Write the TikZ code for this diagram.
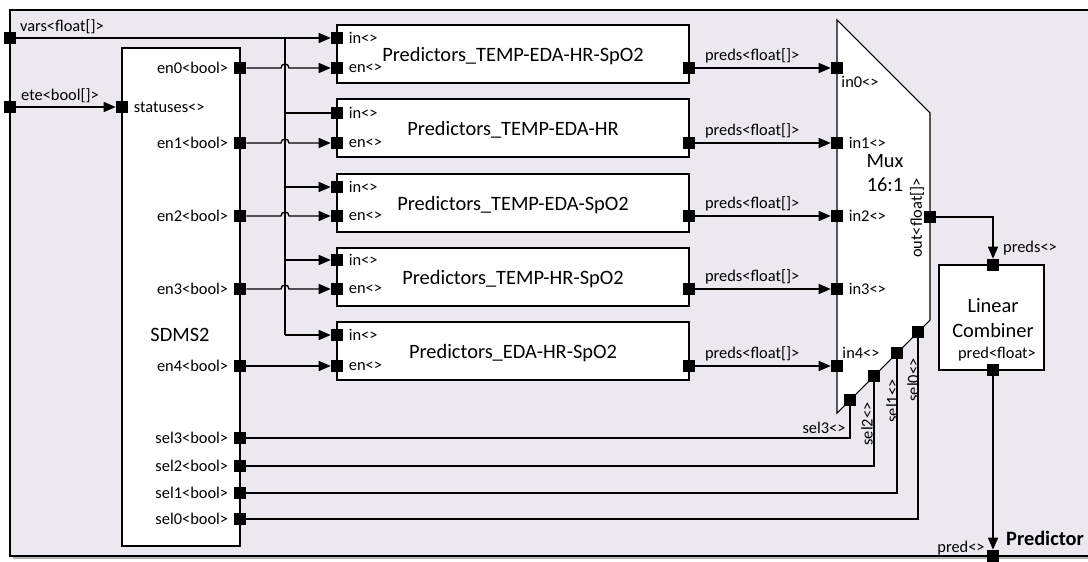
\documentclass[tikz,border=0pt]{standalone}
\usepackage{fontspec}
\setmainfont{Carlito}
\usepackage{tikz}
\usetikzlibrary{arrows.meta,positioning,calc,fit}
\definecolor{canvas}{RGB}{235,232,240}
\newcommand{\bigtxt}{\fontsize{15.3}{18.5}\selectfont}
\newcommand{\porttxt}{\fontsize{12.3}{14}\selectfont}

\begin{document}
\begin{tikzpicture}[x=0.75pt, y=-0.75pt,
    every node/.style={font=\porttxt, inner sep=1pt},
    port/.style={fill=black, minimum size=9pt, inner sep=0pt},
    blk/.style={draw, fill=white, line width=0.8pt, inner sep=0pt},
    wire/.style={line width=1pt},
    arr/.style={wire, -{Triangle[length=9pt,width=7.5pt]}},
    hopto/.style={to path={-- ($(\tikztostart -| bus)+(-3pt,0)$)
      .. controls +(0,4pt) and +(0,4pt) .. ($(\tikztostart -| bus)+(3pt,0)$)
      -- (\tikztotarget)}}]
  \useasboundingbox (0,0) rectangle (1088,561);
  \fill[white] (0,0) rectangle (1088,561);
  % outer frame, cut by the right edge
  \begin{scope}
    \clip (0,0) rectangle (1088,561);
    \fill[gray!60] (13,13) rectangle (1095,559);
    \draw[fill=canvas, line width=1.2pt] (10,10) rectangle (1095,556);
  \end{scope}

  % SDMS2
  \node[blk, fit={(122,48) (240,546)}] (sd) {};
  \node[font=\bigtxt] at (180,335) {SDMS2};
  \node[port] (vars) at (10,38) {};
  \node[port] (ete) at (10,107) {};
  \node[port] (sd-stat) at (122,107) {};
  \node at (62,27) {vars<float[]>};
  \node at (60,96) {ete<bool[]>};
  \node[right=3pt of sd-stat] {statuses<>};
  \draw[arr] (ete) -- (sd-stat);

  % Mux 16:1
  \draw[blk] (837,20) -- (930,113) -- (930,320) -- (837,413) -- cycle;
  \node[font=\bigtxt, align=center] at (885,173) {Mux\\16:1};
  \node[port] (mux-out) at (930,217) {};
  \node[rotate=90] at (917,218) {out<float[]>};
  \node[port] (mux-sel0) at (918,332) {};
  \node[port] (mux-sel1) at (897,353) {};
  \node[port] (mux-sel2) at (874,376) {};
  \node[port] (mux-sel3) at (850,400) {};
  \node[rotate=90] at (913,380) {sel0<>};
  \node[rotate=90] at (892,401) {sel1<>};
  \node[rotate=90] at (867,424) {sel2<>};
  \node at (824,428) {sel3<>};

  % predictor blocks
  \foreach \i/\py/\iy/\ey/\nm in {0/25/38/68/{TEMP-EDA-HR-SpO2},
      1/99/113/143/{TEMP-EDA-HR}, 2/174/187/216/{TEMP-EDA-SpO2},
      3/248/260/289/{TEMP-HR-SpO2}, 4/322/335/366/{EDA-HR-SpO2}} {
    \node[blk, fit={(337,\py) (689,\py+58)}] (p\i) {};
    \node[font=\bigtxt] at ($(p\i.center)+(0,2)$) {Predictors\_\nm};
    \node[port] (p\i-in) at (337,\iy) {};
    \node[port] (p\i-en) at (337,\ey) {};
    \node[port] (p\i-out) at (689,\ey) {};
    \node[port] (mux-in\i) at (837,\ey) {};
    \node[port] (sd-en\i) at (240,\ey) {};
    \node[right=3pt of p\i-in] {in<>};
    \node[right=3pt of p\i-en] {en<>};
    \node[left=3pt of sd-en\i] {en\i<bool>};
    \draw[arr] (p\i-out) -- node[above=2pt, pos=0.42] {preds<float[]>} (mux-in\i);
  }
  \node at (860,82) {in0<>};
  \node[right=3pt of mux-in1] {in1<>};
  \node[right=3pt of mux-in2] {in2<>};
  \node[right=3pt of mux-in3] {in3<>};
  \node at (861,353) {in4<>};

  % vars bus and enables
  \coordinate (bus) at (285,38);
  \draw[arr] (vars) -- (p0-in);
  \draw[wire] (bus) -- (bus |- p4-in);
  \draw[wire] (bus |- p1-in) -- (p1-in);
  \foreach \i in {2,3,4} \draw[arr] (bus |- p\i-in) -- (p\i-in);
  \foreach \i in {0,...,3} \draw[arr] (sd-en\i) to[hopto] (p\i-en);
  \draw[arr] (sd-en4) -- (p4-en);

  % select lines
  \foreach \i/\sy in {3/438, 2/466, 1/493, 0/519} {
    \node[port] (sd-sel\i) at (240,\sy) {};
    \node[left=3pt of sd-sel\i] {sel\i<bool>};
    \draw[wire] (mux-sel\i) |- (sd-sel\i);
  }

  % Linear Combiner
  \node[blk, fit={(939,265) (1044,370)}] (lc) {};
  \node[font=\bigtxt, align=center] at (993,318) {Linear\\Combiner};
  \node[port] (lc-preds) at (993,265) {};
  \node[port] (lc-pred) at (993,370) {};
  \node at (997,354) {pred<float>};
  \node at (1030,248) {preds<>};
  \draw[arr] (mux-out) -| (lc-preds);
  \node[port] (pred) at (993,556) {};
  \node at (961,548) {pred<>};
  \node[font=\bigtxt\bfseries] at (1045,538) {Predictor};
  \draw[arr] (lc-pred) -- (pred);
\end{tikzpicture}
\end{document}
